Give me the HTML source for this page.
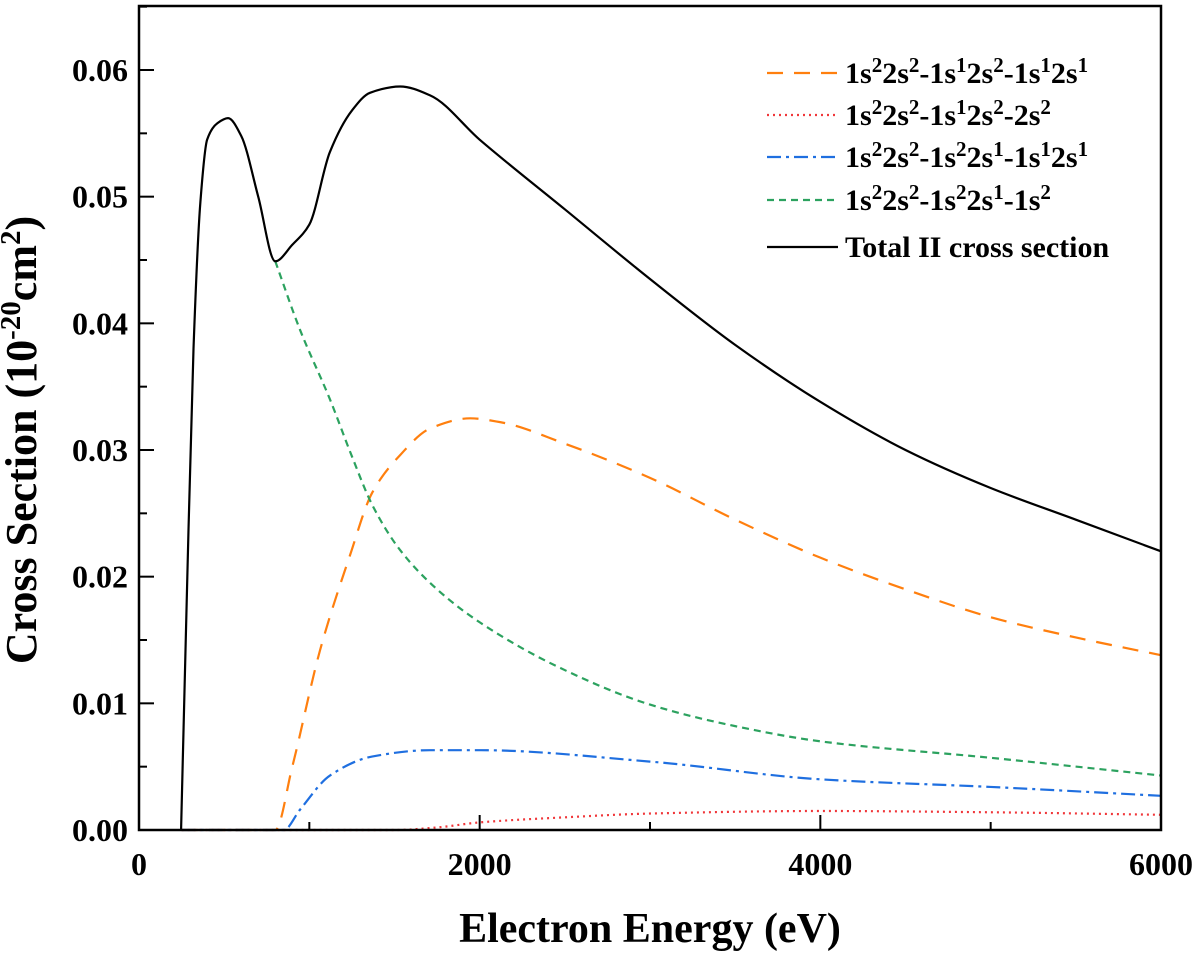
<!DOCTYPE html>
<html><head><meta charset="utf-8"><style>
html,body{margin:0;padding:0;background:#fff;}
svg{display:block;font-family:"Liberation Serif",serif;font-weight:bold;}
</style></head><body>
<svg id="chart" width="1200" height="957" viewBox="0 0 1200 957">
<g id="marks"></g>
<rect x="139" y="6" width="1022" height="824" fill="none" stroke="#000" stroke-width="2.5"/>
<g id="axes"></g>
<text x="36" y="440" font-size="44" text-anchor="middle" transform="rotate(-90 36 440)">Cross Section (10<tspan dy="-16" font-size="29">-20</tspan><tspan dy="16">cm</tspan><tspan dy="-16" font-size="29">2</tspan><tspan dy="16">)</tspan></text>
<text x="650" y="942" font-size="42" text-anchor="middle">Electron Energy (eV)</text>
<g id="legend"></g>
</svg>
<script>
const E_total=[247,280,320,360,400,460,523,600,700,800,900,1000,1120,1250,1356,1533,1709,2000,2500,3000,3500,4000,4500,5000,5500,6000];
const V_total=[0,0.018,0.038,0.0495,0.0545,0.0558,0.0562,0.0548,0.050,0.0449,0.0462,0.0478,0.0535,0.0568,0.0582,0.0587,0.058,0.0545,0.049,0.0435,0.0383,0.0338,0.0300,0.0270,0.0245,0.022];
const E_orange=[250,800,900,1063,1239,1368,1533,1709,1944,2120,2500,3000,3500,4000,4500,5000,5500,6000];
const V_orange=[0,0,0.005,0.0142,0.0217,0.0266,0.0296,0.0317,0.0325,0.0322,0.0305,0.0278,0.0245,0.0215,0.019,0.0168,0.0152,0.0138];
const E_red=[250,1000,1500,1750,2000,2500,3000,4000,5000,6000];
const V_red=[0,0,0,0.0002,0.0006,0.001,0.0013,0.0015,0.0014,0.0012];
const E_blue=[250,850,945,1121,1368,1709,2000,3000,4000,5000,6000];
const V_blue=[0,0,0.0016,0.0043,0.0058,0.0063,0.0063,0.0054,0.004,0.0034,0.0027];
const E_green=[800,945,1121,1250,1368,1533,1750,2000,2472,3000,3500,4000,5000,6000];
const V_green=[0.0449,0.0395,0.034,0.0295,0.0257,0.0221,0.019,0.0164,0.0128,0.0099,0.0082,0.007,0.0057,0.0043];
const xTicks=[0,2000,4000,6000];
const yTicks=[0,0.01,0.02,0.03,0.04,0.05,0.06];
const legendLabels=[
 ['1s','2','2s','2','-1s','1','2s','2','-1s','1','2s','1'],
 ['1s','2','2s','2','-1s','1','2s','2','-2s','2'],
 ['1s','2','2s','2','-1s','2','2s','1','-1s','1','2s','1'],
 ['1s','2','2s','2','-1s','2','2s','1','-1s','2'],
 ['Total II cross section']];
const NS='http://www.w3.org/2000/svg';
const X=e=>139+e*(1022/6000);
const Y=v=>830-v*(760/0.06);
const marks=document.getElementById('marks'),axes=document.getElementById('axes'),leg=document.getElementById('legend');
function mk(tag,at,parent){const el=document.createElementNS(NS,tag);for(const k in at)el.setAttribute(k,at[k]);parent.appendChild(el);return el;}
function smooth(E,V){const xs=E.map(X),ys=V.map(Y),n=xs.length;const d=[],m=[];
 for(let i=0;i<n-1;i++)d.push((ys[i+1]-ys[i])/(xs[i+1]-xs[i]));
 m[0]=d[0];m[n-1]=d[n-2];
 for(let i=1;i<n-1;i++){if(d[i-1]*d[i]<=0)m[i]=0;else{const h0=xs[i]-xs[i-1],h1=xs[i+1]-xs[i];const w1=2*h1+h0,w2=h1+2*h0;m[i]=(w1+w2)/(w1/d[i-1]+w2/d[i]);}}
 let p='M'+xs[0]+','+ys[0];
 for(let i=0;i<n-1;i++){const h=(xs[i+1]-xs[i])/3;p+=` C${xs[i]+h},${ys[i]+m[i]*h} ${xs[i+1]-h},${ys[i+1]-m[i+1]*h} ${xs[i+1]},${ys[i+1]}`;}
 return p;}
const styles=[
 {E:E_orange,V:V_orange,c:'#ff7f0e',da:'16,11',n:'orange-dashed-series'},
 {E:E_red,V:V_red,c:'#f0373a',da:'2,4',n:'red-dotted-series'},
 {E:E_blue,V:V_blue,c:'#1f6fe0',da:'14,5,3,5',n:'blue-dashdot-series'},
 {E:E_green,V:V_green,c:'#2ca25f',da:'7,5',n:'green-dashed-series'},
 {E:E_total,V:V_total,c:'#000',da:'none',n:'total-cross-section-line'}];
styles.forEach(s=>{const el=mk('path',{d:smooth(s.E,s.V),fill:'none',stroke:s.c,'stroke-width':2.2,'stroke-dasharray':s.da},marks);

});
for(let t=0;t<=6000;t+=1000){const maj=t%2000===0;
 const tk=mk('line',{x1:X(t),x2:X(t),y1:830,y2:830-(maj?15:8),stroke:'#000','stroke-width':2},axes);
 
 }
xTicks.forEach(t=>{const tx=mk('text',{x:X(t),y:875,'font-size':32,'text-anchor':'middle'},axes);tx.textContent=t;
 
 });
for(let i=0;i<=13;i++){const v=i*0.005,maj=i%2===0;if(Y(v)<6)break;
 const tk=mk('line',{x1:139,x2:139+(maj?15:8),y1:Y(v),y2:Y(v),stroke:'#000','stroke-width':2},axes);
 
 }
yTicks.forEach(v=>{const tx=mk('text',{x:128,y:Y(v)+11,'font-size':32,'text-anchor':'end'},axes);tx.textContent=v.toFixed(2);
 
 });
const rowsY=[73,115,157,200,247];
styles.forEach((s,i)=>{const g=mk('g',{},leg);
 
 
 mk('line',{x1:767,x2:838,y1:rowsY[i],y2:rowsY[i],stroke:s.c,'stroke-width':2.2,'stroke-dasharray':s.da},g);
 const t=mk('text',{x:845,y:rowsY[i]+10,'font-size':30},g);
 const parts=legendLabels[i];
 if(parts.length===1){t.textContent=parts[0];}
 else{let sup=false;parts.forEach((p,j)=>{const ts=mk('tspan',{},t);ts.textContent=p;
  if(j%2===1){ts.setAttribute('dy','-11');ts.setAttribute('font-size','21');sup=true;}
  else if(sup){ts.setAttribute('dy','11');}});}
});
</script>
</body></html>
